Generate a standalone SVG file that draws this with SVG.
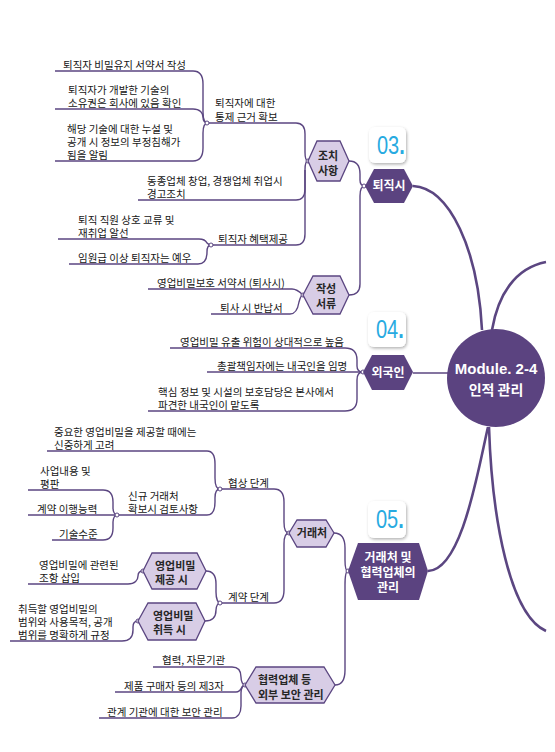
<svg xmlns="http://www.w3.org/2000/svg" width="555" height="752" viewBox="0 0 555 752">
<defs>
<filter id="sh" x="-30%" y="-30%" width="160%" height="160%">
<feDropShadow dx="1" dy="1.5" stdDeviation="1.5" flood-color="#000" flood-opacity="0.3"/>
</filter>
<style>
.t{font-family:"Noto Sans CJK KR","Noto Sans",sans-serif;font-size:10.5px;fill:#161616}
.hb{font-family:"Noto Sans CJK KR","Noto Sans",sans-serif;font-weight:bold;font-size:11px;fill:#262626}
.hw{font-family:"Noto Sans CJK KR","Noto Sans",sans-serif;font-weight:bold;font-size:12px;fill:#fff}
.c{fill:none;stroke:#5b4681;stroke-width:1.4}
.cm{fill:none;stroke:#5b4681;stroke-width:2.6}
.hl{fill:#d8cde6;stroke:#5b4681;stroke-width:1.3}
.hd{fill:#5b4380}
.j{fill:#fff;stroke:#5b4681;stroke-width:1}
.bd{fill:#fff;filter:url(#sh)}
.bn{font-family:"Liberation Sans",Arial,sans-serif;font-size:25px;fill:#27aae1}
</style>
</defs>
<rect width="555" height="752" fill="#fff"/>

<g id="connectors">
<path class="cm" d="M413,186 C450,188 478,250 482,330"/>
<path class="cm" d="M492,330 C498,295 515,268 546,262"/>
<path class="cm" d="M488,427 C478,470 462,570 428,571"/>
<path class="cm" d="M489,427 C492,520 510,615 546,631"/>
<path class="c" d="M413,373 L448,373"/>
<path class="c" d="M349,161 C357,161 360,166 360,174 L360,180 C360,184 361,186 365,186"/>
<path class="c" d="M365,186 C362,186 360,189 360,196 L360,284 C360,291 356,295 349,295"/>
<path class="c" d="M207,123 L296,123 C302,123 305,127 305,134 L305,152 C305,158 306,161 308,161"/>
<path class="c" d="M138,200 L296,200 C302,200 305,196 305,189 L305,170 C305,164 306,161 308,161"/>
<path class="c" d="M211,245 L296,245 C302,245 305,241 305,234 L305,170"/>
<path class="c" d="M55,71 L193,71 C200,71 203,76 203,84 L203,112 C203,119 205,123 208,123"/>
<path class="c" d="M55,109 L193,109 C200,109 203,113 203,117 C203,121 205,123 208,123"/>
<path class="c" d="M55,161 L193,161 C200,161 203,156 203,148 L203,133 C203,127 205,123 208,123"/>
<path class="c" d="M58,239 L199,239 C204,239 206,241 207,243 C208,244 209,245 211,245"/>
<path class="c" d="M69,264 L198,264 C205,264 207,258 207,252 C207,248 208,245 211,245"/>
<path class="c" d="M148,289 L292,289 C297,289 300,292 303,295"/>
<path class="c" d="M211,314 L290,314 C296,314 298,308 299,302 C300,298 301,295 303,295"/>
<path class="c" d="M170,348 L345,348 C353,348 357,352 357,360 L357,366 C357,370 359,372 363,372"/>
<path class="c" d="M207,372 L363,372"/>
<path class="c" d="M148,411 L345,411 C353,411 357,407 357,399 L357,380 C357,375 359,372 363,372"/>
<path class="c" d="M334,533 C341,533 345,538 345,548 L345,560 C345,567 346,571 348,571"/>
<path class="c" d="M348,571 C346,571 345,575 345,585 L345,670 C345,680 342,685 335,685"/>
<path class="c" d="M220,489 L274,489 C281,489 284,494 284,502 L284,522 C284,529 286,533 289,533"/>
<path class="c" d="M220,603 L274,603 C281,603 284,598 284,590 L284,544 C284,537 286,533 289,533"/>
<path class="c" d="M47,451 L207,451 C213,451 215,456 215,464 L215,478 C215,485 217,489 220,489"/>
<path class="c" d="M117,515 L207,515 C213,515 215,510 215,502 L215,498 C215,492 217,489 220,489"/>
<path class="c" d="M28,490 L103,490 C110,490 113,495 113,502 L113,508 C113,512 115,515 117,515"/>
<path class="c" d="M28,515 L117,515"/>
<path class="c" d="M52,540 L103,540 C110,540 113,535 113,528 L113,522 C113,518 115,515 117,515"/>
<path class="c" d="M206,571 C213,571 216,576 216,584 L216,592 C216,599 218,603 220,603"/>
<path class="c" d="M205,621 C212,621 216,617 216,610 C216,606 218,603 220,603"/>
<path class="c" d="M28,584 L128,584 C135,584 138,580 138,576 C138,573 140,571 143,571"/>
<path class="c" d="M10,641 L122,641 C130,641 133,636 133,630 L133,627 C133,623 135,621 138,621"/>
<path class="c" d="M153,667 L232,667 C238,667 241,671 241,677 C241,682 243,685 245,685"/>
<path class="c" d="M115,692 L236,692 C240,692 241,689 242,687 C243,686 244,685 245,685"/>
<path class="c" d="M99,718 L232,718 C238,718 241,713 241,706 L241,693 C241,688 243,685 245,685"/>
<circle class="j" cx="364" cy="186" r="2"/>
<circle class="j" cx="308" cy="161" r="2"/>
<circle class="j" cx="207" cy="123" r="2"/>
<circle class="j" cx="211" cy="245" r="2"/>
<circle class="j" cx="303" cy="295" r="2"/>
<circle class="j" cx="363" cy="372" r="2"/>
<circle class="j" cx="348" cy="571" r="2"/>
<circle class="j" cx="289" cy="533" r="2"/>
<circle class="j" cx="220" cy="489" r="2"/>
<circle class="j" cx="117" cy="515" r="2"/>
<circle class="j" cx="220" cy="603" r="2"/>
<circle class="j" cx="143" cy="571" r="2"/>
<circle class="j" cx="138" cy="621" r="2"/>
<circle class="j" cx="245" cy="685" r="2"/>
</g>

<g id="center">
<circle cx="496" cy="378" r="49" fill="#5b4380"/>
<text x="496" y="374" text-anchor="middle" font-family="'Liberation Sans',Arial,sans-serif" font-weight="bold" font-size="15" fill="#fff">Module. 2-4<tspan x="496" dy="21" font-family="'Noto Sans CJK KR',sans-serif" font-size="14">인적 관리</tspan></text>
</g>

<g id="badge03">
<rect class="bd" x="369" y="127" width="37" height="36" rx="6"/>
<text class="bn" transform="translate(377,154) scale(0.8,1)">03<tspan font-weight="bold">.</tspan></text>
</g>
<g id="badge04">
<rect class="bd" x="368" y="312" width="38" height="35" rx="6"/>
<text class="bn" transform="translate(376,338) scale(0.8,1)">04<tspan font-weight="bold">.</tspan></text>
</g>
<g id="badge05">
<rect class="bd" x="368" y="501" width="38" height="37" rx="6"/>
<text class="bn" transform="translate(376,528) scale(0.8,1)">05<tspan font-weight="bold">.</tspan></text>
</g>

<g id="n-toejiksi">
<polygon class="hd" points="365,186 374,169 404,169 413,186 404,203 374,203"/>
<text class="hw" x="389" y="190" text-anchor="middle">퇴직시</text>
</g>
<g id="n-jochi">
<polygon class="hl" points="308,161 317,141 340,141 349,161 340,181 317,181"/>
<text class="hb" x="328" y="160" text-anchor="middle">조치<tspan x="328" dy="15">사항</tspan></text>
</g>
<g id="n-jakseong">
<polygon class="hl" points="303,295 313,276 340,276 349,295 340,314 313,314"/>
<text class="hb" x="326" y="293" text-anchor="middle">작성<tspan x="326" dy="15">서류</tspan></text>
</g>
<g id="n-tongje">
<text class="t" x="215" y="107">퇴직자에 대한<tspan x="215" dy="14">통제 근거 확보</tspan></text>
</g>
<g id="n-bimil">
<text class="t" x="63" y="69">퇴직자 비밀유지 서약서 작성</text>
</g>
<g id="n-soyu">
<text class="t" x="68" y="94">퇴직자가 개발한 기술의<tspan x="68" dy="13">소유권은 회사에 있음 확인</tspan></text>
</g>
<g id="n-nuseol">
<text class="t" x="67" y="133">해당 기술에 대한 누설 및<tspan x="67" dy="13">공개 시 정보의 부정침해가</tspan><tspan x="67" dy="13">됨을 알림</tspan></text>
</g>
<g id="n-gyeonggo">
<text class="t" x="147" y="185">동종업체 창업, 경쟁업체 취업시<tspan x="147" dy="13">경고조치</tspan></text>
</g>
<g id="n-hyetaek">
<text class="t" x="218" y="243">퇴직자 혜택제공</text>
</g>
<g id="n-gyoryu">
<text class="t" x="78" y="224">퇴직 직원 상호 교류 및<tspan x="78" dy="13">재취업 알선</tspan></text>
</g>
<g id="n-yewoo">
<text class="t" x="78" y="262">임원급 이상 퇴직자는 예우</text>
</g>
<g id="n-seoyak">
<text class="t" x="157" y="287">영업비밀보호 서약서 (퇴사시)</text>
</g>
<g id="n-bannap">
<text class="t" x="220" y="312">퇴사 시 반납서</text>
</g>

<g id="n-foreign">
<polygon class="hd" points="363,372 372,355 404,355 413,372 404,390 372,390"/>
<text class="hw" x="388" y="377" text-anchor="middle">외국인</text>
</g>
<g id="n-yuchul">
<text class="t" x="180" y="346">영업비밀 유출 위험이 상대적으로 높음</text>
</g>
<g id="n-chonggwal">
<text class="t" x="217" y="370">총괄책임자에는 내국인을 임명</text>
</g>
<g id="n-haeksim">
<text class="t" x="158" y="396">핵심 정보 및 시설의 보호담당은 본사에서<tspan x="158" dy="13">파견한 내국인이 맡도록</tspan></text>
</g>

<g id="n-partner">
<polygon class="hd" points="348,571 358,543 419,543 428,571 419,600 358,600"/>
<text class="hw" x="388" y="562" text-anchor="middle">거래처 및<tspan x="388" dy="15">협력업체의</tspan><tspan x="388" dy="15">관리</tspan></text>
</g>
<g id="n-georaecheo">
<polygon class="hl" points="289,533 297,520 326,520 334,533 326,547 297,547"/>
<text class="hb" x="312" y="537" text-anchor="middle">거래처</text>
</g>
<g id="n-hyeopryeok">
<polygon class="hl" points="245,685 256,667 324,667 335,685 324,703 256,703"/>
<text class="hb" x="258" y="684">협력업체 등<tspan x="258" dy="15">외부 보안 관리</tspan></text>
</g>
<g id="n-hyeopsang">
<text class="t" x="228" y="487">협상 단계</text>
</g>
<g id="n-gyeyak">
<text class="t" x="228" y="601">계약 단계</text>
</g>
<g id="n-sinjung">
<text class="t" x="54" y="436">중요한 영업비밀을 제공할 때에는<tspan x="54" dy="13">신중하게 고려</tspan></text>
</g>
<g id="n-singyu">
<text class="t" x="128" y="500">신규 거래처<tspan x="128" dy="13">확보시 검토사항</tspan></text>
</g>
<g id="n-saeop">
<text class="t" x="40" y="475">사업내용 및<tspan x="40" dy="13">평판</tspan></text>
</g>
<g id="n-ihaeng">
<text class="t" x="37" y="513">계약 이행능력</text>
</g>
<g id="n-gisul">
<text class="t" x="59" y="538">기술수준</text>
</g>
<g id="n-jegong">
<polygon class="hl" points="143,571 152,553 197,553 206,571 197,589 152,589"/>
<text class="hb" x="155" y="570">영업비밀<tspan x="155" dy="14">제공 시</tspan></text>
</g>
<g id="n-chwideuk">
<polygon class="hl" points="138,621 148,603 196,603 205,621 196,640 148,640"/>
<text class="hb" x="153" y="620">영업비밀<tspan x="153" dy="14">취득 시</tspan></text>
</g>
<g id="n-johang">
<text class="t" x="39" y="569">영업비밀에 관련된<tspan x="39" dy="13">조항 삽입</tspan></text>
</g>
<g id="n-beomwi">
<text class="t" x="18" y="613">취득할 영업비밀의<tspan x="18" dy="13">범위와 사용목적, 공개</tspan><tspan x="18" dy="13">범위를 명확하게 규정</tspan></text>
</g>
<g id="n-jamun">
<text class="t" x="162" y="664">협력, 자문기관</text>
</g>
<g id="n-je3ja">
<text class="t" x="124" y="690">제품 구매자 등의 제3자</text>
</g>
<g id="n-gwangye">
<text class="t" x="107" y="716">관계 기관에 대한 보안 관리</text>
</g>
</svg>
